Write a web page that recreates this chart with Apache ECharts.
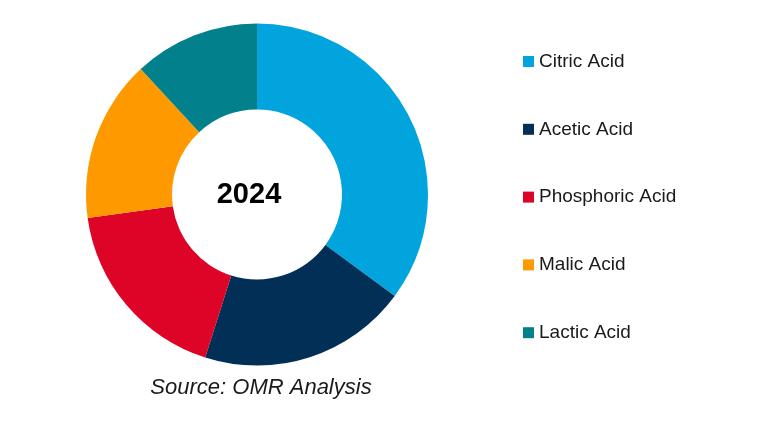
<!DOCTYPE html>
<html>
<head>
<meta charset="utf-8">
<script src="https://cdn.jsdelivr.net/npm/echarts@6/dist/echarts.min.js"></script>
<style>html,body{margin:0;padding:0;background:#fff;}#c{width:776px;height:431px;}</style>
</head>
<body>
<div id="c"></div>
<script>
var categories = ['Citric Acid', 'Acetic Acid', 'Phosphoric Acid', 'Malic Acid', 'Lactic Acid'];
var values = [35.1, 19.8, 17.9, 15.3, 11.9];
var colors = ['#02A4DE', '#022F56', '#DD0427', '#FE9900', '#02808B'];
var centerLabel = '2024';
var sourceText = 'Source: OMR Analysis';

var chart = echarts.init(document.getElementById('c'), null, {renderer: 'canvas'});
var data = categories.map(function (n, i) {
  return {name: n, value: values[i], itemStyle: {color: colors[i]}};
});
chart.setOption({
  animation: false,
  backgroundColor: '#ffffff',
  legend: {
    orient: 'vertical',
    left: 523,
    top: 51.5,
    padding: 0,
    itemWidth: 11,
    itemHeight: 11,
    itemGap: 47.8,
    icon: 'rect',
    data: categories,
    textStyle: {fontFamily: 'Liberation Sans', fontSize: 19, color: '#1a1a1a', lineHeight: 20}
  },
  graphic: [
    {type: 'text', z: 100, style: {text: centerLabel, x: 249, y: 194.5, textAlign: 'center', textVerticalAlign: 'middle', font: 'bold 29px "Liberation Sans"', fill: '#000'}},
    {type: 'text', z: 100, style: {text: sourceText, x: 261, y: 388, textAlign: 'center', textVerticalAlign: 'middle', font: 'italic 22px "Liberation Sans"', fill: '#1a1a1a'}}
  ],
  series: [{
    type: 'pie',
    center: [257, 194.5],
    radius: [85, 171],
    startAngle: 90,
    clockwise: true,
    label: {show: false},
    labelLine: {show: false},
    silent: true,
    itemStyle: {borderWidth: 0},
    data: data
  }]
});
</script>
</body>
</html>
